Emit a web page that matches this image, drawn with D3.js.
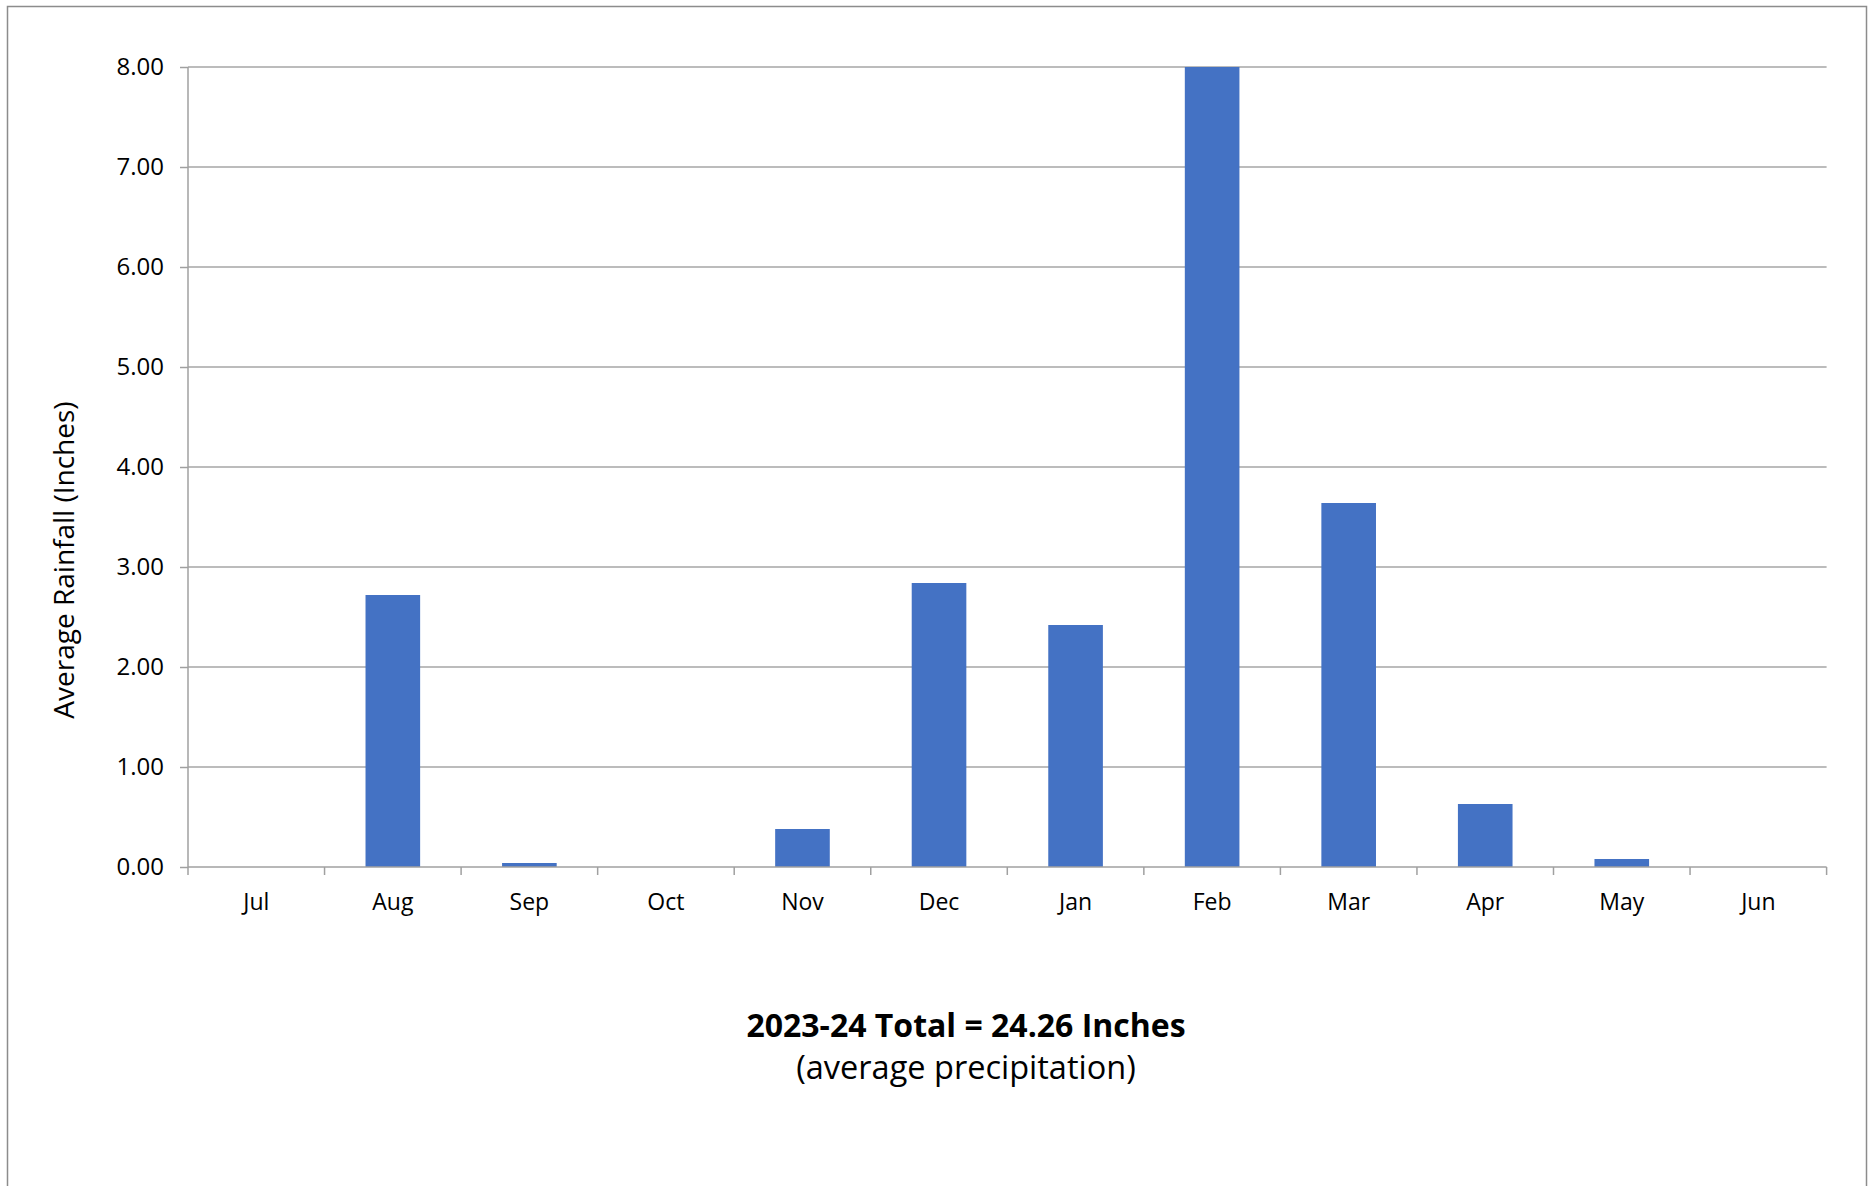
<!DOCTYPE html>
<html>
<head>
<meta charset="utf-8">
<script src="https://cdn.jsdelivr.net/npm/d3@7"></script>
<style>
  body { margin: 0; background: #fff; }
  svg text { font-family: "Open Sans", "Noto Sans", sans-serif; fill: #000; }
</style>
</head>
<body>
<script>
// monthly rainfall, season Jul 2023 - Jun 2024
var months = ["Jul", "Aug", "Sep", "Oct", "Nov", "Dec", "Jan", "Feb", "Mar", "Apr", "May", "Jun"];
var rainfall = [0.00, 2.72, 0.04, 0.00, 0.38, 2.84, 2.42, 11.51, 3.64, 0.63, 0.08, 0.00];
var yTicks = [0, 1, 2, 3, 4, 5, 6, 7, 8];
var titleText = "2023-24 Total = 24.26 Inches";
var subtitleText = "(average precipitation)";
var yTitle = "Average Rainfall (Inches)";

var W = 1873, H = 1186;
var plotL = 188, plotR = 1826.6, plotT = 67, plotB = 867;  // plot area

var svg = d3.select("body").append("svg")
    .attr("width", W)
    .attr("height", H);

svg.append("rect")  // chart frame
    .attr("x", 7.5).attr("y", 6.5)
    .attr("width", 1859).attr("height", 1200)
    .attr("fill", "#fff")
    .attr("stroke", "#8c8c8c")
    .attr("stroke-width", 1.5);

var x = d3.scaleBand()
    .domain(months)
    .range([plotL, plotR])
    .paddingInner(0.6)
    .paddingOuter(0.3);

var xCat = d3.scaleBand()  // category boundaries for tick marks
    .domain(months)
    .range([plotL, plotR]);

var y = d3.scaleLinear()
    .domain([0, 8])
    .range([plotB, plotT])
    .clamp(true);  // Feb runs off the top of the axis

// gridlines
svg.append("g")
    .selectAll("line")
    .data(yTicks.slice(1))
    .enter()
    .append("line")
    .attr("x1", plotL).attr("x2", plotR)
    .attr("y1", d => y(d)).attr("y2", d => y(d))
    .attr("stroke", "#a6a6a6")
    .attr("stroke-width", 1.5);

// bars
svg.append("g")
    .selectAll("rect")
    .data(rainfall)
    .enter()
    .append("rect")
    .attr("x", (d, i) => x(months[i]))
    .attr("width", x.bandwidth())
    .attr("y", d => y(d))
    .attr("height", d => y(0) - y(d))
    .attr("fill", "#4472c4");

// y axis
var yAxis = svg.append("g")
    .attr("transform", "translate(" + plotL + ",0)")
    .call(d3.axisLeft(y).tickValues(yTicks).tickFormat(d3.format(".2f")).tickSize(8).tickPadding(16));
yAxis.selectAll("line, path").attr("stroke", "#a0a0a0").attr("stroke-width", 1.5);
yAxis.select(".domain").attr("d", "M0," + plotT + "V" + plotB);
yAxis.selectAll("text").attr("font-size", 24).attr("font-family", "Open Sans");

// x axis
var xAxis = svg.append("g")
    .attr("transform", "translate(0," + plotB + ")");
xAxis.append("line")
    .attr("x1", plotL).attr("x2", plotR)
    .attr("stroke", "#a0a0a0").attr("stroke-width", 1.5);
xAxis.selectAll(".tk")
    .data(months.concat(["end"]))
    .enter()
    .append("line")
    .attr("class", "tk")
    .attr("x1", d => d == "end" ? plotR : xCat(d))
    .attr("x2", d => d == "end" ? plotR : xCat(d))
    .attr("y1", 0).attr("y2", 8)
    .attr("stroke", "#a0a0a0").attr("stroke-width", 1.5);
xAxis.selectAll(".lbl")
    .data(months)
    .enter()
    .append("text")
    .attr("class", "lbl")
    .attr("x", d => x(d) + x.bandwidth() / 2)
    .attr("y", 43)
    .attr("text-anchor", "middle")
    .attr("font-size", 23)
    .text(d => d);

// axis title
svg.append("text")
    .attr("transform", "translate(74,560) rotate(-90)")
    .attr("text-anchor", "middle")
    .attr("font-size", 28)
    .text(yTitle);

// total and subtitle
svg.append("text")
    .attr("x", 966).attr("y", 1037)
    .attr("text-anchor", "middle")
    .attr("font-size", 32)
    .attr("font-weight", "bold")
    .text(titleText);
svg.append("text")
    .attr("x", 966).attr("y", 1079)
    .attr("text-anchor", "middle")
    .attr("font-size", 32.5)
    .text(subtitleText);
</script>
</body>
</html>
